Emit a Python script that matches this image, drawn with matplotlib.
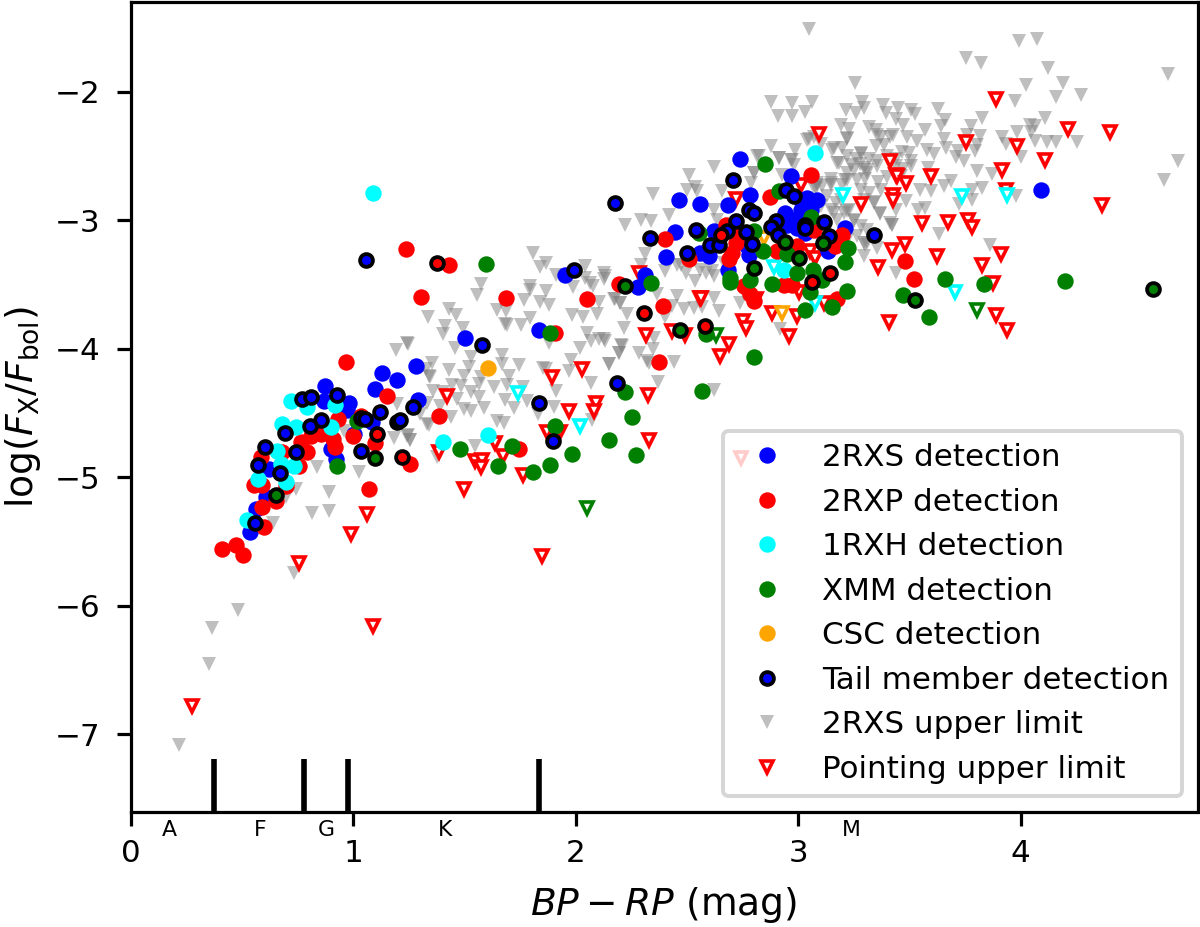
import numpy as np
from matplotlib import pyplot as plt
from matplotlib.lines import Line2D

# (BP-RP, log Fx/Fbol)
blue = [(.873,-4.287),(.869,-4.404),(.981,-4.417),(.971,-4.474),(1.130,-4.189),(1.196,-4.241),(1.101,-4.313),
	(1.282,-4.132),(1.291,-4.396),(1.086,-4.572),(1.004,-4.663),(.899,-4.779),(.924,-4.857),(.622,-4.934),
	(.607,-5.154),(.562,-5.245),(.536,-5.426),(1.505,-3.917),(1.838,-3.853),(1.952,-3.426),
	(2.738,-2.518),(2.969,-2.657),(2.786,-2.800),(2.684,-2.882),(2.558,-2.875),(2.463,-2.838),(2.448,-3.087),
	(2.407,-3.281),(2.561,-3.253),(2.599,-3.278),(2.621,-3.084),(2.684,-3.382),(2.311,-3.421),(2.280,-3.517),
	(2.943,-2.942),(2.973,-2.994),(3.011,-2.916),(3.041,-2.826),(3.083,-2.839),(3.011,-2.838),(2.951,-3.033),
	(2.996,-3.058),(3.033,-3.097),(3.056,-2.916),(3.041,-2.994),(3.210,-3.058),(3.135,-3.240),(2.779,-3.266),
	(2.741,-3.097),(2.771,-3.201),(4.090,-2.761)]
red = [(.968,-4.101),(1.154,-4.365),(.932,-4.546),(1.034,-4.525),(1.001,-4.681),(1.101,-4.732),(.911,-4.701),
	(.918,-4.766),(.794,-4.805),(.764,-4.727),(.809,-4.675),(.854,-4.663),(.682,-4.805),(.587,-4.844),
	(.757,-4.908),(.554,-5.056),(.589,-5.056),(.701,-5.064),(.652,-5.180),(.592,-5.227),(.602,-5.387),
	(.413,-5.555),(.476,-5.524),(.505,-5.607),(1.258,-4.898),(1.071,-5.090),
	(1.240,-3.226),(1.433,-3.345),(1.306,-3.596),(1.688,-3.602),(1.907,-3.879),(2.050,-3.609),(1.385,-4.525),(1.745,-4.777),
	(3.057,-2.644),(2.873,-2.818),(2.401,-3.141),(2.509,-3.304),(2.194,-3.491),(2.391,-3.667),(2.374,-4.101),
	(2.674,-3.033),(2.719,-3.175),(2.704,-3.253),(2.689,-3.304),(2.726,-3.123),(2.996,-3.201),(2.906,-3.240),
	(3.198,-3.110),(3.168,-3.201),(2.756,-3.511),(2.786,-3.576),(2.804,-3.628),(2.936,-3.506),(2.973,-3.506),
	(3.173,-3.615),(3.071,-3.071),(3.479,-3.317),(3.521,-3.459)]
cyan = [(.722,-4.409),(.794,-4.450),(.918,-4.435),(.682,-4.585),(.742,-4.611),(.899,-4.606),(.659,-4.797),
	(.677,-4.895),(.737,-4.908),(.571,-5.015),(.697,-5.033),(.524,-5.330),(1.405,-4.725),(1.606,-4.668),
	(3.074,-2.476),(2.936,-3.382),(1.090,-2.785)]
green = [(.930,-4.911),(1.019,-4.559),(1.597,-3.338),(1.883,-3.873),(1.907,-4.603),(2.220,-4.339),(2.254,-4.533),
	(2.152,-4.707),(2.271,-4.826),(1.985,-4.815),(1.883,-4.903),(1.808,-4.960),(1.716,-4.753),(1.650,-4.908),
	(1.481,-4.782),(2.569,-4.324),(2.851,-2.559),(2.913,-2.774),(3.059,-2.973),(2.801,-3.084),(2.842,-3.240),
	(2.951,-3.260),(3.225,-3.216),(3.213,-3.325),(2.341,-3.488),(2.696,-3.447),(2.696,-3.480),(2.786,-3.460),
	(2.884,-3.498),(2.996,-3.408),(3.068,-3.382),(3.108,-3.460),(3.053,-3.558),(3.222,-3.553),(3.029,-3.695),
	(3.152,-3.674),(2.800,-4.060),(2.585,-3.887),(2.554,-3.097),(3.660,-3.459),(3.834,-3.498),(4.198,-3.472),
	(3.471,-3.581),(3.587,-3.752)]
orange = [(1.606,-4.145)]

tail_blue = [(.770,-4.391),(.809,-4.378),(.927,-4.355),(.857,-4.554),(.807,-4.598),(.695,-4.655),(.605,-4.761),
	(.745,-4.805),(.575,-4.903),(.674,-4.968),(.559,-5.354),(1.034,-4.536),(1.052,-4.546),(1.122,-4.489),
	(1.196,-4.567),(1.21,-4.554),(1.270,-4.450),(1.034,-4.795),(1.580,-3.969),(1.992,-3.382),(1.836,-4.417),
	(2.188,-4.267),(1.899,-4.717),(1.060,-3.310),(2.179,-2.864),(2.334,-3.136),(2.542,-3.074),(2.499,-3.253),
	(2.603,-3.190),(2.644,-3.190),(2.681,-3.084),(2.719,-3.002),(2.707,-2.686),(2.779,-2.916),(2.800,-2.942),
	(2.767,-3.090),(2.791,-3.183),(2.902,-3.007),(2.879,-3.051),(2.909,-3.110),(2.945,-2.761),(2.982,-2.810),
	(3.029,-3.038),(3.033,-3.058),(3.116,-3.012),(3.141,-3.118),(3.342,-3.115)]
tail_red = [(1.109,-4.663),(1.221,-4.841),(1.376,-3.330),(2.654,-3.110),(2.307,-3.724),(2.581,-3.822),(3.063,-3.480),(3.143,-3.410)]
tail_green = [(1.101,-4.846),(.653,-5.134),(2.220,-3.514),(2.469,-3.853),(2.800,-3.372),(2.940,-3.167),(3.003,-3.291),
	(3.111,-3.175),(3.525,-3.617),(4.596,-3.532)]

gray_limit = [(1.191,-4.010),(1.243,-3.956),(.839,-4.921),(1.026,-4.955),(.745,-5.090),(.893,-5.110),(.700,-5.154),
	(.816,-5.276),(.893,-5.258),(.640,-5.354),(.734,-5.744),(.959,-4.637),(1.184,-4.696),(1.243,-4.676),(1.258,-4.709),
	(1.199,-4.430),(1.303,-4.507),(1.333,-4.585),(1.326,-4.158),(1.341,-4.210),(.484,-6.034),(.368,-6.172),(.352,-6.451),(.220,-7.083),
	(3.049,-1.513),(3.993,-1.604),(4.075,-1.591),(3.756,-1.739),(3.822,-1.777),(4.125,-1.814),(4.662,-1.863),(3.256,-1.933),
	(4.026,-1.946),(4.191,-1.928),(4.158,-2.036),(4.270,-2.026),(3.976,-2.070),(2.877,-2.078),(2.971,-2.088),(3.061,-2.075),
	(2.911,-2.184),(2.974,-2.184),(3.031,-2.153),(3.286,-2.075),(3.296,-2.127),(3.214,-2.140),(3.259,-2.166),(3.383,-2.101),
	(3.397,-2.160),(3.450,-2.127),(3.509,-2.140),(3.524,-2.171),(3.627,-2.135),(3.660,-2.217),(3.644,-2.264),(3.827,-2.205),
	(3.776,-2.264),(4.108,-2.199),(3.439,-2.212),(3.473,-2.256),(3.194,-2.256),(3.230,-2.287),(3.319,-2.274),(3.350,-2.300),
	(3.570,-2.300),(3.491,-2.347),(3.427,-2.334),(3.371,-2.347),(3.221,-2.368),(3.049,-2.368),(3.982,-2.313),(4.041,-2.256),
	(4.063,-2.264),(4.045,-2.308),(3.915,-2.352),(3.933,-2.406),(4.063,-2.378),(4.158,-2.393),(4.120,-2.393),(4.252,-2.393),
	(3.816,-2.339),(3.761,-2.334),(3.656,-2.368),(3.663,-2.437),(3.533,-2.380),(3.806,-2.411),(3.795,-2.458),(3.719,-2.463),
	(3.708,-2.510),(3.746,-2.541),(4.003,-2.510),(2.877,-2.424),(2.986,-2.450),(3.101,-2.406),(3.154,-2.450),(3.199,-2.437),
	(3.284,-2.484),(3.349,-2.419),(3.386,-2.411),(3.581,-2.450),(3.611,-2.484),(3.498,-2.476),(3.469,-2.468),(4.707,-2.536),
	(4.645,-2.688),(3.803,-2.619),(3.871,-2.637),(3.686,-2.691),(3.656,-2.735),(3.825,-2.748),(3.783,-2.766),(3.783,-2.839),
	(3.723,-2.870),(3.978,-2.808),(3.585,-2.593),(3.596,-2.774),(3.546,-2.766),(3.569,-2.903),(3.539,-2.916),(3.486,-2.851),
	(3.439,-2.916),(3.367,-2.947),(3.341,-2.859),(3.421,-3.033),(3.633,-3.102),(3.863,-3.188),(3.296,-3.278),(3.353,-3.214),
	(3.281,-3.045),(3.251,-3.007),(3.206,-2.942),(3.169,-2.864),(3.146,-2.709),(3.109,-2.735),(3.079,-2.748),(3.221,-2.631),
	(3.251,-2.606),(3.311,-2.606),(3.356,-2.580),(3.281,-2.761),(3.319,-2.787),(3.371,-2.761),(3.199,-2.722),(3.176,-2.554),
	(2.974,-2.528),(2.914,-2.515),(2.824,-2.502),(2.802,-2.631),(2.787,-2.709),(2.929,-2.644),(2.659,-2.774),(3.461,-2.657),
	(3.506,-2.580),(3.506,-2.541),(3.266,-2.683),(3.221,-2.929),(3.176,-2.994),(3.296,-3.175),
	(1.808,-3.252),(1.839,-3.361),(1.865,-3.330),(1.910,-3.428),(2.041,-3.356),(2.044,-3.446),(1.988,-3.519),(2.067,-3.485),
	(2.079,-3.511),(2.130,-3.407),(2.130,-3.454),(1.573,-3.498),(1.555,-3.581),(1.794,-3.511),(1.794,-3.545),(1.865,-3.550),
	(1.767,-3.622),(1.842,-3.633),(1.880,-3.661),(1.647,-3.697),(1.689,-3.705),(1.797,-3.757),(1.685,-3.803),(1.692,-3.814),
	(1.755,-3.814),(1.433,-3.687),(1.463,-3.739),(1.337,-3.749),(1.412,-3.822),(1.493,-3.840),(1.405,-3.886),(1.460,-3.990),
	(1.246,-3.964),(1.532,-4.062),(1.670,-4.047),(1.670,-4.119),(1.745,-4.127),(1.853,-4.145),(1.865,-4.158),(1.355,-4.106),
	(1.345,-4.217),(1.433,-4.163),(1.520,-4.140),(1.498,-4.210),(1.577,-4.217),(1.700,-4.210),(1.692,-4.280),(1.632,-4.295),
	(1.568,-4.274),(1.445,-4.277),(1.483,-4.292),(1.358,-4.331),(1.405,-4.339),(1.528,-4.339),(1.565,-4.373),(1.468,-4.391),
	(1.333,-4.417),(1.393,-4.443),(1.498,-4.469),(1.528,-4.481),(1.588,-4.463),(1.682,-4.396),(1.722,-4.463),(1.782,-4.409),
	(1.763,-4.300),(1.910,-4.326),(1.902,-4.450),(1.830,-4.507),(1.647,-4.559),(1.680,-4.580),(1.340,-4.593),(1.441,-4.533),
	(1.246,-4.670),(1.258,-4.707),(1.546,-4.758),(1.378,-4.844),(2.070,-4.269),(2.074,-4.551),(1.970,-4.171),(1.980,-4.085),
	(2.022,-3.995),(2.152,-4.119),(2.197,-4.034),(2.206,-3.969),(2.284,-4.029),(2.347,-4.003),(2.329,-4.106),(2.444,-4.098),
	(2.370,-4.261),(2.624,-4.321),(2.052,-3.873),(2.071,-3.938),(2.107,-3.920),(2.131,-3.938),(2.217,-3.834),(2.232,-3.731),
	(2.097,-3.731),(2.034,-3.752),(1.982,-3.739),(2.107,-3.635),(2.172,-3.614),(2.202,-3.640),(1.880,-3.951),(2.352,-3.912),
	(2.292,-3.343),(2.314,-3.265),(2.404,-3.395),(2.456,-3.343),(2.498,-3.407),(2.539,-3.472),(2.584,-3.407),(2.621,-3.433),
	(2.367,-3.576),(2.434,-3.666),(2.457,-3.589),(2.404,-3.749),(2.487,-3.692),(2.531,-3.679),(2.569,-3.671),(2.621,-3.602),
	(2.644,-3.705),(2.621,-2.587),(2.509,-2.644),(2.349,-2.792),(2.539,-2.740),(2.546,-2.774),(2.419,-2.955),(2.224,-3.033),
	(2.296,-3.000),(2.341,-3.007),(2.134,-3.434),(2.179,-3.615),(2.202,-3.641),(2.127,-3.925),(2.209,-3.977),(2.194,-4.029),
	(2.149,-4.120),(2.322,-4.094),(2.741,-3.641),(2.756,-3.563),(2.921,-3.848),(2.472,-3.343),(2.561,-3.382),(2.614,-3.395),
	(2.666,-3.330),(2.621,-2.916),(2.636,-2.994),(2.502,-2.761),(2.801,-2.631),(2.816,-2.502),(2.913,-2.515),(2.966,-2.528),
	(3.423,-3.033),(3.438,-3.408),(3.266,-3.123),(3.311,-3.175),(3.086,-2.709),(3.146,-2.680),(3.221,-2.683),(3.311,-2.631),
	(3.041,-2.373),(3.071,-2.347),(3.161,-2.437),(3.221,-2.360),(3.281,-2.476),(3.355,-2.334),(3.415,-2.347),(3.183,-2.554),
	(3.236,-2.567),(3.295,-2.593),(3.355,-2.541),(3.213,-2.683),(3.146,-2.722),(3.086,-2.722),(3.131,-2.813),(3.191,-2.838),
	(3.228,-2.916),(3.296,-2.838),(3.340,-2.864),(3.370,-2.942),(3.415,-3.020),(3.161,-2.942),(3.251,-2.994),(3.311,-3.071),
	(3.221,-3.149),(3.303,-3.188),(3.146,-2.916),(3.101,-2.890),(3.071,-2.748),(2.981,-2.567),(3.30,-2.68),(3.36,-2.70),
	(3.40,-2.66),(3.44,-2.52),(3.40,-2.50),(3.32,-2.52),(3.26,-2.52),(3.28,-2.56),(3.22,-2.50),(3.44,-2.58),(3.47,-2.60)]

red_limit = [(1.064,-5.284),(.993,-5.439),(.757,-5.667),(.277,-6.777),(1.092,-6.156),(2.743,-4.852),
	(3.096,-2.326),(3.415,-2.536),(3.438,-2.650),(3.426,-2.800),(3.427,-2.838),(3.281,-2.870),(3.015,-2.722),(2.722,-2.833),
	(2.284,-3.408),(3.423,-3.232),(3.358,-3.364),(3.053,-3.240),(3.078,-3.291),(2.561,-3.602),(3.003,-3.558),(3.116,-3.641),
	(2.881,-3.718),(2.996,-3.744),(2.752,-3.783),(2.764,-3.840),(2.958,-3.900),(2.317,-3.894),(2.434,-3.861),(2.494,-3.892),
	(2.689,-3.959),(2.647,-4.055),(3.408,-3.788),(2.813,-3.615),
	(3.888,-2.057),(4.215,-2.290),(4.400,-2.313),(3.756,-2.391),(3.985,-2.424),(4.108,-2.528),(3.918,-2.606),
	(3.443,-2.652),(3.483,-2.709),(3.596,-2.652),(3.934,-2.761),(4.364,-2.877),(3.558,-3.020),(3.674,-3.012),(3.765,-2.994),
	(3.780,-3.051),(3.479,-3.183),(3.623,-3.273),(3.913,-3.258),(3.825,-3.343),(3.876,-3.490),(3.888,-3.736),(3.937,-3.853),
	(1.423,-4.365),(1.895,-4.215),(2.031,-4.158),(2.325,-4.357),(2.094,-4.422),(2.082,-4.481),(1.970,-4.481),(2.329,-4.707),
	(1.872,-4.650),(1.932,-4.650),(1.637,-4.735),(1.385,-4.805),(1.673,-4.836),(1.546,-4.875),(1.580,-4.862),(1.577,-4.921),
	(1.764,-4.978),(1.498,-5.090),(2.564,-3.602),(1.850,-5.610)]
cyan_limit = [(3.201,-2.800),(2.891,-3.361),(3.074,-3.641),(3.735,-2.813),(3.937,-2.805),(1.740,-4.344),(2.019,-4.598),(3.705,-3.555)]
green_limit = [(2.629,-3.892),(3.802,-3.697),(2.052,-5.240)]
orange_limit = [(2.928,-3.724),(2.846,-3.136)]

spectral_edges = [.375, .781, .978, 1.838]
spectral_names = ["A", "F", "G", "K", "M"]
spectral_pos = [.174, .582, .88, 1.415, 3.24]

xticks = [0, 1, 2, 3, 4]
yticks = [-2, -3, -4, -5, -6, -7]


def xy(points):
	return np.array(points).T


def dots(ax, points, color):
	x, y = xy(points)
	ax.plot(x, y, ls="none", marker="o", ms=4.1, mfc=color, mec=color, mew=0)


def ringed(ax, points, color):
	x, y = xy(points)
	ax.plot(x, y, ls="none", marker="o", ms=3.2, mfc=color, mec="black", mew=0.95)


def open_limit(ax, points, color):
	x, y = xy(points)
	ax.plot(x, y, ls="none", marker="v", ms=3.1, mfc="white", mec=color, mew=0.9)


plt.rcParams["font.family"] = "DejaVu Sans"
plt.rcParams["mathtext.fontset"] = "dejavusans"

fig = plt.figure(figsize=(1200 / 288, 927 / 288), dpi=288)
ax = fig.add_axes([130.5 / 1200, 1 - 811.5 / 927, 1067 / 1200, 809.5 / 927])

x, y = xy(gray_limit)
ax.plot(x, y, ls="none", marker="v", ms=3.6, color="gray", alpha=0.5, mew=0)
open_limit(ax, red_limit, "red")
open_limit(ax, cyan_limit, "cyan")
open_limit(ax, green_limit, "green")
open_limit(ax, orange_limit, "orange")

dots(ax, blue, "blue")
dots(ax, red, "red")
dots(ax, cyan, "cyan")
dots(ax, green, "green")
dots(ax, orange, "orange")
ringed(ax, tail_blue, "blue")
ringed(ax, tail_red, "red")
ringed(ax, tail_green, "green")

ax.set_xlim(0, 4.795)
ax.set_ylim(-7.6, -1.3)
for edge in spectral_edges:
	ax.plot([edge, edge], [-7.6, -7.19], color="black", lw=1.4, solid_capstyle="butt")
for name, pos in zip(spectral_names, spectral_pos):
	ax.text(pos, -7.745, name, fontsize=5.5, ha="center", va="center", clip_on=False)

ax.set_xticks(xticks)
ax.set_yticks(yticks)
ax.set_yticklabels(["\u22122", "\u22123", "\u22124", "\u22125", "\u22126", "\u22127"])
ax.tick_params(labelsize=7.75, length=3.5, width=0.8, pad=3.5)
ax.tick_params(axis="y", pad=4)
ax.set_xlabel("$BP-RP$ (mag)", fontsize=9.4, labelpad=4.2)
ax.set_ylabel(r"log($F_{\rm X}$/$F_{\rm bol}$)", fontsize=9.4, labelpad=3)

handles = [
	Line2D([], [], ls="none", marker="o", ms=4.1, mfc="blue", mec="blue", mew=0, label="2RXS detection"),
	Line2D([], [], ls="none", marker="o", ms=4.1, mfc="red", mec="red", mew=0, label="2RXP detection"),
	Line2D([], [], ls="none", marker="o", ms=4.1, mfc="cyan", mec="cyan", mew=0, label="1RXH detection"),
	Line2D([], [], ls="none", marker="o", ms=4.1, mfc="green", mec="green", mew=0, label="XMM detection"),
	Line2D([], [], ls="none", marker="o", ms=4.1, mfc="orange", mec="orange", mew=0, label="CSC detection"),
	Line2D([], [], ls="none", marker="o", ms=3.2, mfc="blue", mec="black", mew=0.95, label="Tail member detection"),
	Line2D([], [], ls="none", marker="v", ms=3.6, color="gray", alpha=0.5, mew=0, label="2RXS upper limit"),
	Line2D([], [], ls="none", marker="v", ms=3.1, mfc="white", mec="red", mew=0.9, label="Pointing upper limit"),
]
ax.legend(handles=handles, loc="lower right", fontsize=7.75)

fig.savefig("out.png", dpi=288)
